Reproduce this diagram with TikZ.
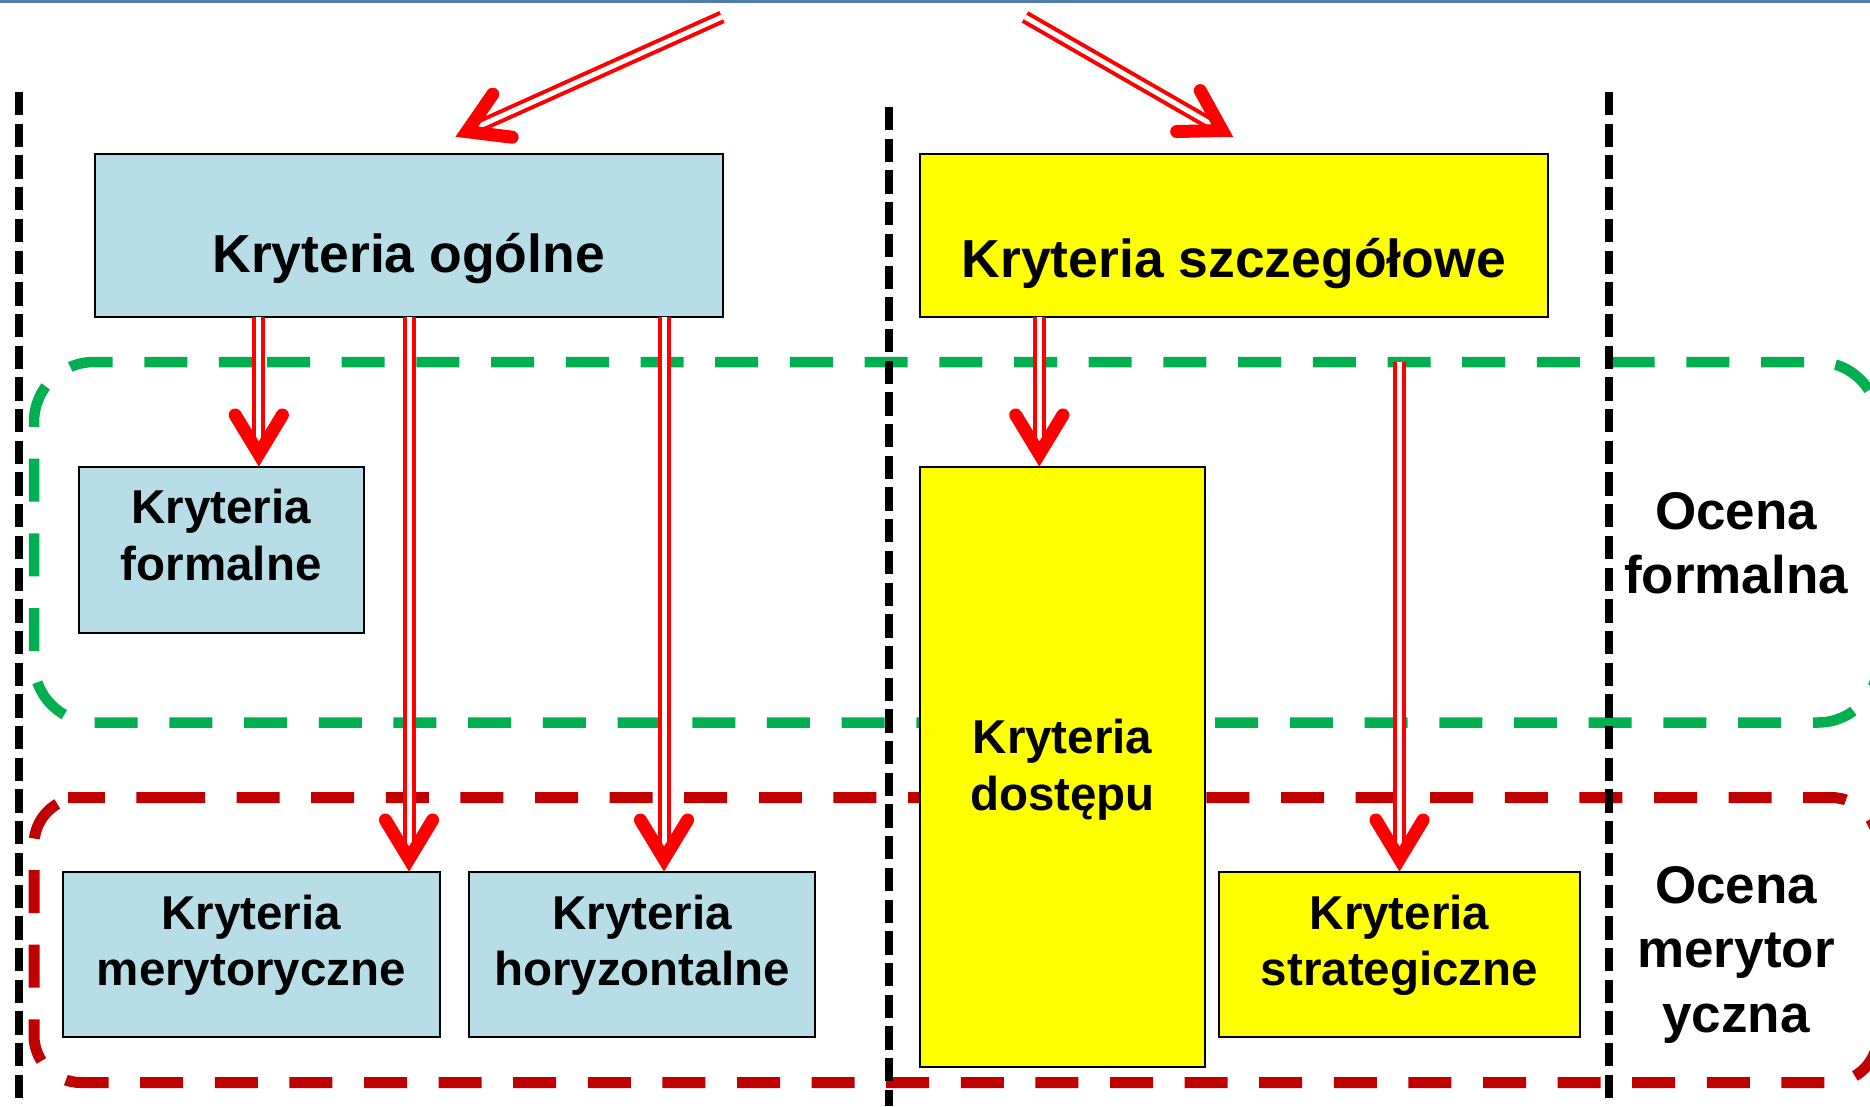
\documentclass[tikz,border=0pt]{standalone}
\usepackage{fontspec}
\setmainfont{Liberation Sans}
\usetikzlibrary{decorations.markings}
\definecolor{boxblue}{HTML}{B7DEE8}
\definecolor{boxyellow}{HTML}{FFFF00}
\definecolor{dashgreen}{HTML}{00B050}
\definecolor{dashred}{HTML}{C00000}
\definecolor{arrowred}{HTML}{FF0000}
\definecolor{topblue}{HTML}{4F7FA8}
\tikzset{
  every node/.style={inner sep=0pt, outer sep=0pt},
  critbox/.style={draw=black, line width=2pt, rectangle},
  bluebox/.style={critbox, fill=boxblue},
  yellowbox/.style={critbox, fill=boxyellow},
  bigtxt/.style={font=\bfseries\fontsize{53.5}{60}\selectfont, anchor=base},
  midtxt/.style={font=\bfseries\fontsize{47.5}{56}\selectfont, anchor=base},
  sidetxt/.style={font=\bfseries\fontsize{53}{64}\selectfont, anchor=base},
  sepline/.style={draw=black, line width=7.5pt, dash pattern=on 23.3pt off 8.4pt},
  greenzone/.style={draw=dashgreen, line width=10.5pt, dash pattern=on 43pt off 31.7pt, rounded corners=60pt},
  redzone/.style={draw=dashred, line width=11pt, dash pattern=on 43pt off 31.6pt, rounded corners=47pt},
  vhead/.style={decoration={markings, mark=at position 1 with {
     \draw[arrowred, solid, line width=13pt, line cap=round, line join=miter, shorten >=0pt, shorten <=0pt]
       (-52pt,23.6pt) -- (-13pt,0pt) -- (-52pt,-23.6pt);}}},
  flow/.style={draw=arrowred, line width=4pt, double=white, double distance=5pt,
     shorten >=22pt, vhead, postaction={decorate}},
}
\begin{document}
\begin{tikzpicture}[x=1pt, y=-1pt]
\useasboundingbox (0,0) rectangle (1870,1106);
\clip (0,0) rectangle (1870,1106);
\fill[white] (0,0) rectangle (1870,1106);
\draw[topblue, line width=3pt] (0,1.5) -- (1870,1.5);

% zones
\draw[greenzone] (207,362) -- (1878,362) -- (1878,722.5) -- (34,722.5) -- (34,362) -- cycle;
\draw[redzone] (115,797.5) -- (1878,797.5) -- (1878,1082.5) -- (34,1082.5) -- (34,797.5) -- cycle;

% column separators
\coordinate (sepL-top) at (19,92);
\coordinate (sepL-bot) at (19,1106);
\coordinate (sepM-top) at (889,107);
\coordinate (sepM-bot) at (889,1106);
\coordinate (sepR-top) at (1609,92);
\coordinate (sepR-bot) at (1609,1106);
\draw[sepline] (sepL-top) -- (sepL-bot);
\draw[sepline] (sepM-top) -- (sepM-bot);
\draw[sepline] (sepR-top) -- (sepR-bot);

% boxes
\node[bluebox, minimum width=628.5pt, minimum height=163pt] (ogolne) at (408.75,235) {};
\node[yellowbox, minimum width=628.5pt, minimum height=163pt] (szczegolowe) at (1233.75,235) {};
\node[bluebox, minimum width=285.5pt, minimum height=166pt] (formalne) at (221.25,550) {};
\node[bluebox, minimum width=376.5pt, minimum height=165pt] (merytoryczne) at (251.25,954.5) {};
\node[bluebox, minimum width=346pt, minimum height=165pt] (horyzontalne) at (642,954.5) {};
\node[yellowbox, minimum width=285pt, minimum height=600pt] (dostepu) at (1062.5,767) {};
\node[yellowbox, minimum width=361pt, minimum height=165pt] (strategiczne) at (1399.5,954.5) {};

% texts
\node[bigtxt] (ogolne-t) at (408.75,272) {Kryteria ogólne};
\node[bigtxt] (szczegolowe-t) at (1233.75,277) {Kryteria szczegółowe};
\node[midtxt] (formalne-t1) at (221.25,523) {Kryteria};
\node[midtxt] (formalne-t2) at (221.25,580) {formalne};
\node[midtxt] (merytoryczne-t1) at (251.25,929) {Kryteria};
\node[midtxt] (merytoryczne-t2) at (251.25,985) {merytoryczne};
\node[midtxt] (horyzontalne-t1) at (642,929) {Kryteria};
\node[midtxt] (horyzontalne-t2) at (642,985) {horyzontalne};
\node[midtxt] (dostepu-t1) at (1062.5,753) {Kryteria};
\node[midtxt] (dostepu-t2) at (1062.5,810) {dostępu};
\node[midtxt] (strategiczne-t1) at (1399.5,929) {Kryteria};
\node[midtxt] (strategiczne-t2) at (1399.5,985) {strategiczne};
\node[sidetxt] (formalna-t1) at (1736,529) {Ocena};
\node[sidetxt] (formalna-t2) at (1736,593) {formalna};
\node[sidetxt] (merytoryczna-t1) at (1736,903) {Ocena};
\node[sidetxt] (merytoryczna-t2) at (1736,967) {merytor};
\node[sidetxt] (merytoryczna-t3) at (1736,1032) {yczna};

% arrows
\coordinate (srcL) at (722,17);
\coordinate (tipL) at (455,137);
\coordinate (srcR) at (1025,17);
\coordinate (tipR) at (1233.5,137);
\draw[flow] (srcL) -- (tipL);
\draw[flow] (srcR) -- (tipR);

\coordinate (colA) at (258.8,0);
\coordinate (colB) at (409,0);
\coordinate (colC) at (664,0);
\coordinate (colD) at (1039.3,0);
\coordinate (fromzone) at (1399.5,362);
\draw[flow] (ogolne.south -| colA) -- (formalne.north -| colA);
\draw[flow] (ogolne.south -| colB) -- (merytoryczne.north -| colB);
\draw[flow] (ogolne.south -| colC) -- (horyzontalne.north -| colC);
\draw[flow] (szczegolowe.south -| colD) -- (dostepu.north -| colD);
\draw[flow] (fromzone) -- (strategiczne.north -| fromzone);
\end{tikzpicture}
\end{document}
